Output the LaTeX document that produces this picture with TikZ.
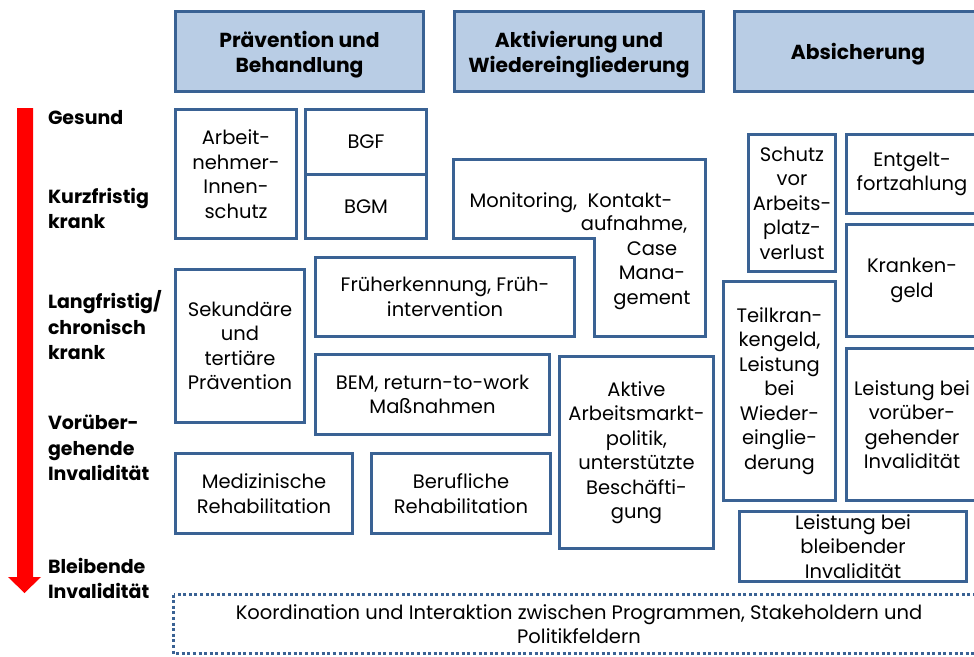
\documentclass[tikz,border=0pt]{standalone}
\usepackage{fontspec}
\setmainfont{Poppins}
\definecolor{frame}{RGB}{58,98,148}
\definecolor{headfill}{RGB}{185,205,229}
\definecolor{arrowred}{RGB}{255,0,0}
\begin{document}
\begin{tikzpicture}[x=1pt,y=-1pt,
  every node/.style={inner sep=0pt, outer sep=0pt},
  body/.style={font=\fontsize{19.5}{24.5}\selectfont, align=center},
  cell/.style={draw=frame, line width=3pt, body},
  head/.style={draw=frame, fill=headfill, line width=3pt},
  headtext/.style={font=\bfseries\fontsize{20.3}{25.5}\selectfont, align=center},
  stage/.style={font=\bfseries\fontsize{19}{25.5}\selectfont, align=left, anchor=west},
  dotbox/.style={draw=frame, line width=3pt, dash pattern=on 3pt off 2.6pt},
]
\useasboundingbox (0,0) rectangle (974,656);
\clip (0,0) rectangle (974,656);

% column headers
\node[head, minimum width=248, minimum height=80] (h1) at (299.5,51.5) {};
\node[headtext] (h1t) at ([yshift=-3pt]h1.center) {Prävention und\\Behandlung};
\node[head, minimum width=249, minimum height=80] (h2) at (579,51.5) {};
\node[headtext] (h2t) at ([yshift=-3pt]h2.center) {Aktivierung und\\Wiedereingliederung};
\draw[head] (734.5,11.5) rectangle (995,91.5);
\node[headtext] (h3t) at (858,54.5) {Absicherung};

% health stages and the red arrow
\fill[arrowred] (17,108) -- (33,108) -- (33,577) -- (41,577) -- (24.5,593)
  -- (8,577) -- (17,577) -- cycle;
\node[font=\bfseries\fontsize{19}{25.5}\selectfont, anchor=base west] (s1) at (48,124) {Gesund};
\node[stage] (s2) at (48,208.5) {Kurzfristig\\krank};
\node[stage] (s3) at (48,325.5) {Langfristig/\\chronisch\\krank};
\node[stage] (s4) at (48,448) {Vorüber-\\gehende\\Invalidität};
\node[stage] (s5) at (48,578.5) {Bleibende\\Invalidität};

% prevention and treatment
\node[cell, minimum width=121, minimum height=129] (arbeit) at (236,174) {Arbeit-\\nehmer-\\Innen-\\schutz};
\node[cell, minimum width=121, minimum height=65] (bgf) at (366,142) {BGF};
\node[cell, minimum width=121, minimum height=64] (bgm) at (366,206.5) {BGM};
\node[cell, minimum width=129, minimum height=153] (sek) at (240,346) {Sekundäre\\und\\tertiäre\\Prävention};
\node[cell, minimum width=259, minimum height=79] (frueh) at (445,297) {Früherkennung, Früh-\\intervention};
\node[cell, minimum width=234, minimum height=80] (bem) at (432.5,394.5) {BEM, return-to-work\\Maßnahmen};
\node[cell, minimum width=177, minimum height=80] (med) at (264,493.5) {Medizinische\\Rehabilitation};
\node[cell, minimum width=179, minimum height=80] (beruf) at (461,493.5) {Berufliche\\Rehabilitation};

% activation and reintegration
\draw[frame, line width=3pt] (453.5,159.5) -- (705.5,159.5) -- (705.5,336.5)
  -- (594.5,336.5) -- (594.5,238.5) -- (453.5,238.5) -- cycle;
\node[body, anchor=base] (mon1) at (571,207) {Monitoring,\ \ Kontakt-};
\node[body, anchor=base] (mon2) at (634,230) {aufnahme,};
\node[body] (mon3) at (652,275.5) {Case\\Mana-\\gement};
\node[cell, minimum width=154, minimum height=192] (aktiv) at (636.5,452.5) {Aktive\\Arbeitsmarkt-\\politik,\\unterstützte\\Beschäfti-\\gung};

% social security
\node[cell, minimum width=87, minimum height=137] (schutz) at (792,203) {Schutz\\vor\\Arbeits-\\platz-\\verlust};
\draw[frame, line width=3pt] (846.5,134.5) rectangle (995,213.5);
\node[body] (entgelt) at (912,174) {Entgelt-\\fortzahlung};
\draw[frame, line width=3pt] (846.5,224.5) rectangle (995,336.5);
\node[body] (kranken) at (912,280.5) {Kranken-\\geld};
\node[cell, minimum width=112, minimum height=219] (teil) at (779.5,391) {Teilkran-\\kengeld,\\Leistung\\bei\\Wieder-\\einglie-\\derung};
\draw[frame, line width=3pt] (846.5,348.5) rectangle (995,500.5);
\node[body] (voruebergehend) at (912,424.5) {Leistung bei\\vorüber-\\gehender\\Invalidität};
\node[cell, minimum width=227, minimum height=70] (bleibend) at (853,546.5) {Leistung bei\\bleibender\\Invalidität};

% coordination across all fields
\draw[dotbox] (173.5,594.5) rectangle (1000,653.5);
\node[body] (koord) at (579,624) {Koordination und Interaktion zwischen Programmen, Stakeholdern und\\Politikfeldern};
\end{tikzpicture}
\end{document}
